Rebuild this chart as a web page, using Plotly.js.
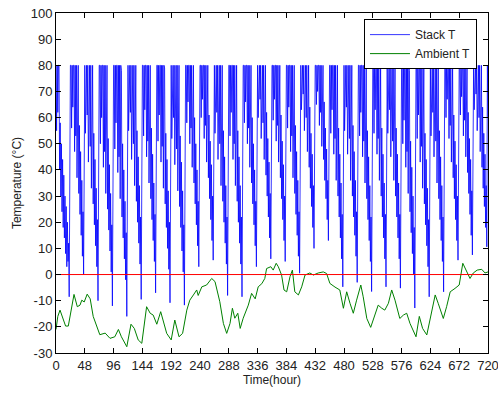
<!DOCTYPE html>
<html>
<head>
<meta charset="utf-8">
<script src="https://cdn.plot.ly/plotly-3.0.1.min.js"></script>
<style>html,body{margin:0;padding:0;background:#fff;}#chart{width:498px;height:394px;}</style>
</head>
<body>
<div id="chart"></div>
<script>
// Stack temperature, sampled every hour (one row per day, hours 24k .. 24k+23), plus final sample at hour 720
const stackStepHours = 1;
const stackT = [
  80,55,80,62,80,80,40,58,30,50,24,44,18,38,14,30,8,26,3,20,5,12,-8.5,80,
  80,80,56,80,64,80,80,47,80,53,80,37,80,80,31,57,23,47,15,36,7,24,0,80,
  80,54,80,80,61,80,43,80,80,49,80,33,80,80,27,54,19,44,11,33,3,21,-10,80,
  80,80,50,80,60,80,80,41,80,47,80,31,80,80,25,52,17,42,9,31,1,19,-12,80,
  80,80,48,80,58,80,80,39,80,45,80,29,80,78,22,50,14,40,6,28,-2,16,-16,80,
  80,55,80,80,62,80,44,80,80,50,80,34,80,80,28,55,20,45,12,34,4,22,-9.5,80,
  80,80,53,80,63,80,80,45,80,51,80,35,80,80,29,56,21,46,13,35,5,23,-7,80,
  80,80,51,80,61,80,80,43,80,49,80,33,80,79,27,54,18,44,10,32,2,20,-10.8,80,
  80,52,80,80,60,80,42,80,80,48,80,32,80,80,26,53,18,43,9,32,1,19,-11.7,80,
  80,80,58,80,66,80,80,50,80,56,80,41,80,80,35,60,27,50,19,40,11,28,3,80,
  80,80,60,80,67,80,80,52,80,57,80,43,80,80,37,61,29,51,21,42,13,30,5.5,80,
  80,54,80,80,62,80,44,80,80,50,80,34,80,80,28,55,20,45,12,34,4,22,-8,80,
  80,80,53,80,62,80,80,44,80,50,80,34,80,80,28,55,20,45,12,34,4,22,-8.5,80,
  80,80,58,80,66,80,80,50,80,56,80,41,80,80,35,60,27,50,19,40,11,28,3,80,
  80,60,80,80,67,80,52,80,80,58,80,44,80,80,38,62,30,52,22,43,14,31,6,80,
  80,80,59,80,67,80,80,51,80,57,80,43,80,80,37,61,29,51,21,42,13,30,5,80,
  80,80,56,80,64,80,80,47,80,53,80,37,80,80,31,57,23,47,15,36,7,24,0.5,80,
  80,63,80,80,69,80,55,80,80,60,80,47,80,80,41,64,33,54,26,46,18,34,10,80,
  80,80,65,80,70,80,80,57,80,62,80,49,80,80,44,66,36,56,29,48,21,36,13,80,
  80,80,54,80,63,80,80,46,80,52,80,36,80,80,30,56,22,46,14,35,6,23,-4.7,80,
  80,55,80,80,64,80,46,80,80,52,80,36,80,80,30,57,22,47,15,36,7,24,-3,80,
  80,80,53,80,62,80,80,45,80,51,80,35,80,80,29,55,21,45,13,34,5,22,-6.5,80,
  80,80,54,80,63,80,80,46,80,52,80,36,80,80,30,56,22,46,14,35,6,23,-4.7,80,
  80,54,80,80,63,80,45,80,80,51,80,36,80,80,30,56,22,46,14,35,6,23,-5.2,80,
  80,80,50,80,59,80,80,41,80,47,80,31,80,78,24,51,16,41,8,30,0,18,-12.8,80,
  80,80,52,80,61,80,80,43,80,49,80,33,80,80,27,54,19,44,11,33,3,21,-8.5,80,
  80,53,80,80,62,80,45,80,80,51,80,35,80,80,29,55,21,45,13,34,5,22,-6.6,80,
  80,80,60,80,67,80,80,52,80,57,80,43,80,80,37,61,29,51,21,42,13,30,5.5,80,
  80,80,61,80,68,80,80,53,80,59,80,45,80,80,39,62,31,52,23,44,15,32,7.5,80,
  80,63,80,80,69,80,55,80,80,60,80,47,80,80,41,64,33,54,26,46,18,34,10.6,80,
  60
];
const stackHour = stackT.map((_, i) => i * stackStepHours);

// Ambient temperature readings
const ambHour = [0,3,6.7,12,16,20.5,24,30,35.5,40,43,47,52,57,62,68,73,82,90,98,104,109,118,125,130.5,137,143,151,157,162,168,174.5,184.5,192,198,205,211,218,223,229,234.5,237,243,251,259.5,265,273,279,284.5,290,294,298,303,307,312,320.5,326,332,337,343,348,351,358,362,367,370.5,376,380,384.5,390,394,398,404,409.5,415,423,429,437,445.5,451,456.5,465,473,479,484.5,490,495.5,501,508,512,518,524.5,530.5,537,543,548,554,559.5,565,573,579,584.5,590,595.5,600,605.5,611,618,623,632,637,645.5,651,657,665,672,678,683,690,695.5,702,709.5,715,720];
const ambTemp = [-21,-16,-13.6,-17.4,-19.7,-19.7,-14.8,-7.6,-12.3,-11.7,-9.8,-10.5,-7.5,-9.3,-16,-19.7,-23,-22.4,-24.4,-23.8,-21,-23.8,-27.6,-19,-20.6,-25,-26.3,-12.3,-14.8,-15.5,-19,-14.2,-22.5,-25,-17.4,-23.8,-22.5,-13.6,-9.8,-7.8,-5.9,-8,-4.7,-4,-1.5,-2.7,-10.4,-18.7,-22.5,-18.7,-12.9,-16.7,-14.8,-20.6,-16.7,-11.7,-7.2,-9.3,-4.7,-3.5,-1.5,2.3,3,1.7,4.3,3,-0.2,-5.9,-6.6,-0.8,1.7,-6.6,-7.8,-4.7,-0.2,0.6,-0.2,0.6,1,0.4,-3.4,-4.8,-5.9,-12.9,-6.6,-11,-14.8,-9.8,-4,-8.5,-16.8,-20.2,-16,-11.7,-12.9,-13.6,-11,-5.9,-9.8,-16.8,-15.5,-14.8,-18.7,-21.9,-23.8,-16,-20.6,-23.1,-17.4,-7.8,-11,-16.8,-12.3,-6.6,-5.3,-4,4.3,1.7,-1.5,0.6,1.7,2,0.6,1];

// Zero reference line
const refHours = [0, 720];
const refTemp = [0, 0];

const xTicks = [0,48,96,144,192,240,288,336,384,432,480,528,576,624,672,720];
const yTicks = [-30,-20,-10,0,10,20,30,40,50,60,70,80,90,100];

const font = 'Liberation Sans, Arial, Helvetica, sans-serif';

const traces = [
  {x: stackHour, y: stackT, type: 'scatter', mode: 'lines', name: 'Stack T',
   line: {color: '#0000ff', width: 0.8}},
  {x: ambHour, y: ambTemp, type: 'scatter', mode: 'lines', name: 'Ambient T',
   line: {color: '#008000', width: 1}},
  {x: refHours, y: refTemp, type: 'scatter', mode: 'lines', showlegend: false,
   line: {color: '#ff0000', width: 1}}
];

const axisCommon = {
  showgrid: false, zeroline: false, showline: true, linecolor: '#000', linewidth: 1,
  mirror: 'ticks', ticks: 'inside', ticklen: 5, tickcolor: '#000', tickwidth: 1,
  ticklabeloverflow: 'allow', automargin: false,
  tickfont: {family: font, size: 13, color: '#222'}
};

const layout = {
  width: 498, height: 394,
  margin: {l: 56, r: 10, t: 13, b: 41},
  paper_bgcolor: '#fff', plot_bgcolor: '#fff',
  font: {family: font, size: 13, color: '#222'},
  showlegend: true,
  legend: {x: 0.9745, xanchor: 'right', y: 0.982, yanchor: 'top',
    bgcolor: '#fff', bordercolor: '#000', borderwidth: 1, itemwidth: 40,
    font: {family: font, size: 12, color: '#222'}},
  xaxis: Object.assign({}, axisCommon, {range: [0, 720], tickvals: xTicks, ticktext: xTicks.map(String),
    title: {text: 'Time(hour)', font: {family: font, size: 12, color: '#222'}, standoff: 4}}),
  yaxis: Object.assign({}, axisCommon, {range: [-30, 100], tickvals: yTicks, ticktext: yTicks.map(String),
    title: {text: 'Temperature (°C)', font: {family: font, size: 12, color: '#222'}, standoff: 6}})
};

Plotly.newPlot('chart', traces, layout, {displayModeBar: false, staticPlot: true});
</script>
</body>
</html>
